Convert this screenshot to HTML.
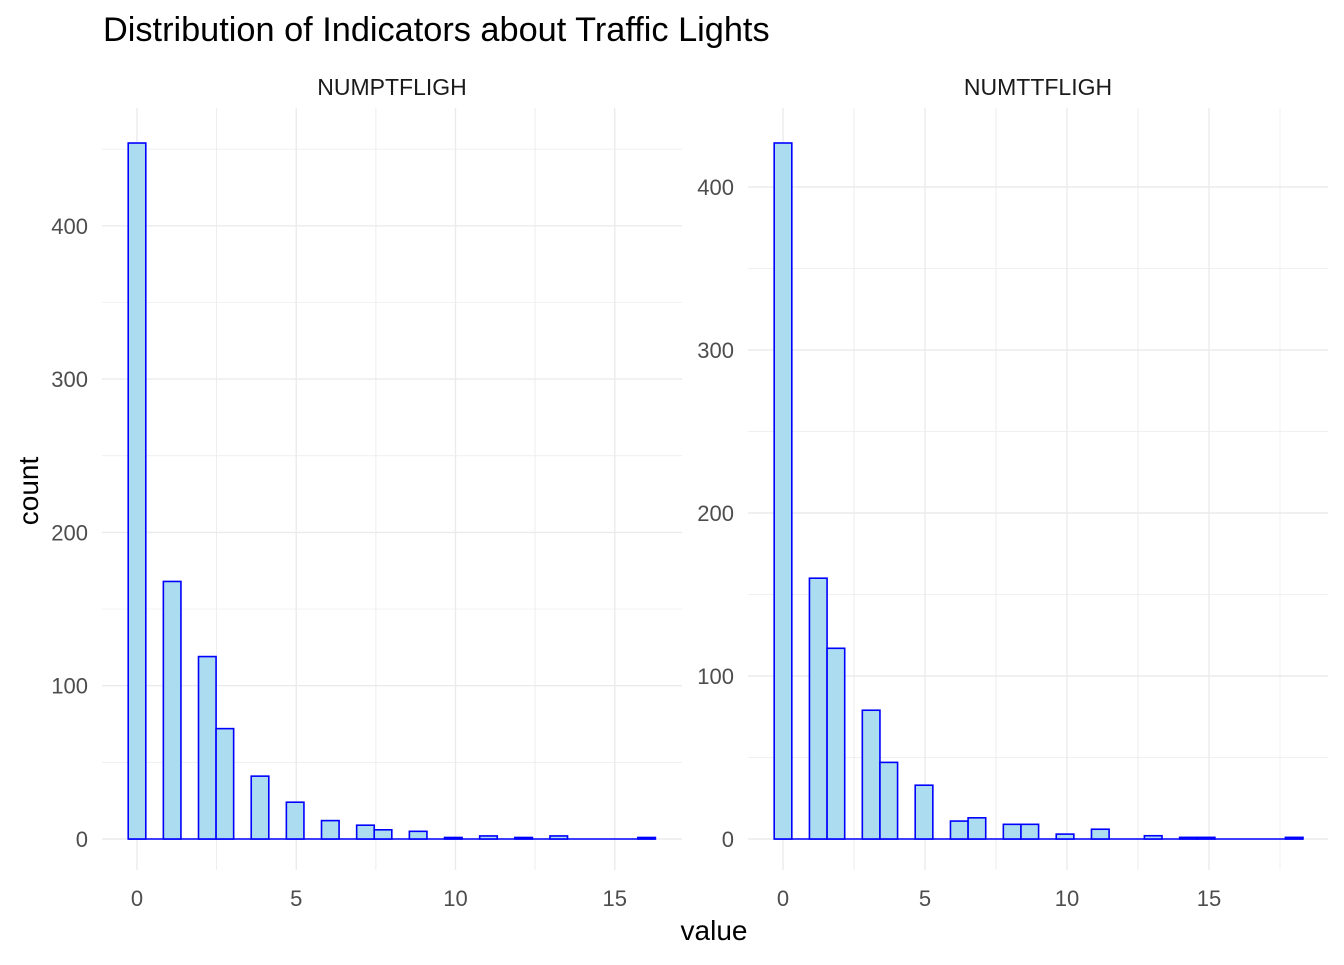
<!DOCTYPE html>
<html><head><meta charset="utf-8"><style>
body{margin:0;background:#fff;}
svg text{font-family:"Liberation Sans",Arial,sans-serif;}
</style></head><body>
<svg id="chart" width="1344" height="960">
<text x="103" y="41" font-size="34.3" fill="#000">Distribution of Indicators about Traffic Lights</text>
<text x="714" y="940" font-size="28" text-anchor="middle" fill="#000">value</text>
<text x="38" y="491" font-size="28" text-anchor="middle" fill="#000" transform="rotate(-90 38 491)">count</text>
</svg>
<script>
const leftCounts=[454,0,168,0,119,72,0,41,0,24,0,12,0,9,6,0,5,0,1,0,2,0,1,0,2,0,0,0,0,1];
const rightCounts=[427,0,160,117,0,79,47,0,33,0,11,13,0,9,9,0,3,0,6,0,0,2,0,1,1,0,0,0,0,1];
const leftXTicks=[0,5,10,15];
const rightXTicks=[0,5,10,15];
const leftYTicks=[0,100,200,300,400];
const rightYTicks=[0,100,200,300,400];
const facetLabels=["NUMPTFLIGH","NUMTTFLIGH"];
const leftMax=16, rightMax=18;

const svg=document.getElementById('chart');
const NS='http://www.w3.org/2000/svg';
function mk(tag,attrs,parent){const e=document.createElementNS(NS,tag);for(const k in attrs)e.setAttribute(k,attrs[k]);parent.appendChild(e);return e;}

function panel(px0,px1,x0pix,xUnit,y0pix,yUnit,counts,xmax,xt,yt,label,name){
  const g=mk('g',{},svg);
  
  
  const sx=v=>x0pix+v*xUnit, sy=v=>y0pix-v*yUnit;
  const top=108,bot=870;
  for(let i=0;i<xt.length;i++){
    const xx=sx(xt[i]+2.5);
    if(xx<px1) mk('line',{x1:xx,x2:xx,y1:top,y2:bot,stroke:'#ebebeb','stroke-width':0.7},g);
    const x2=sx(xt[i]-2.5); if(x2>px0) mk('line',{x1:x2,x2:x2,y1:top,y2:bot,stroke:'#ebebeb','stroke-width':0.7},g);
  }
  for(let i=0;i<yt.length;i++){
    const yy=sy(yt[i]+50); if(yy>top) mk('line',{x1:px0,x2:px1,y1:yy,y2:yy,stroke:'#ebebeb','stroke-width':0.7},g);
  }
  xt.forEach(v=>{mk('line',{x1:sx(v),x2:sx(v),y1:top,y2:bot,stroke:'#ebebeb','stroke-width':1.4},g);
    const t=mk('text',{x:sx(v),y:906,'font-size':22,fill:'#4d4d4d','text-anchor':'middle'},g);t.textContent=v;
    });
  yt.forEach(v=>{mk('line',{x1:px0,x2:px1,y1:sy(v),y2:sy(v),stroke:'#ebebeb','stroke-width':1.4},g);
    const t=mk('text',{x:px0-14,y:sy(v)+8,'font-size':22,fill:'#4d4d4d','text-anchor':'end'},g);t.textContent=v;
    });
  const s=mk('text',{x:(px0+px1)/2,y:95,'font-size':23,fill:'#1a1a1a','text-anchor':'middle'},g);s.textContent=label;
  
  const bw=xmax/(counts.length-1);
  const base=mk('line',{x1:sx(-bw/2),x2:sx(xmax+bw/2),y1:sy(0),y2:sy(0),stroke:'#0000ff','stroke-width':1.6},g);
  
  
  counts.forEach((c,k)=>{
    const xc=k*bw; const xl=sx(xc-bw/2), xr=sx(xc+bw/2);
    const r=mk('rect',{x:xl,y:sy(c),width:xr-xl,height:Math.max(0,sy(0)-sy(c)),fill:'#acdcf0',stroke:'#0000ff','stroke-width':1.6},g);
    
    
  });
}
panel(102,682,137,31.85,839,1.533,leftCounts,leftMax,leftXTicks,leftYTicks,facetLabels[0],'panel-numptfligh');
panel(748,1328,783,28.4,839,1.63,rightCounts,rightMax,rightXTicks,rightYTicks,facetLabels[1],'panel-numttfligh');
</script>
</body></html>
